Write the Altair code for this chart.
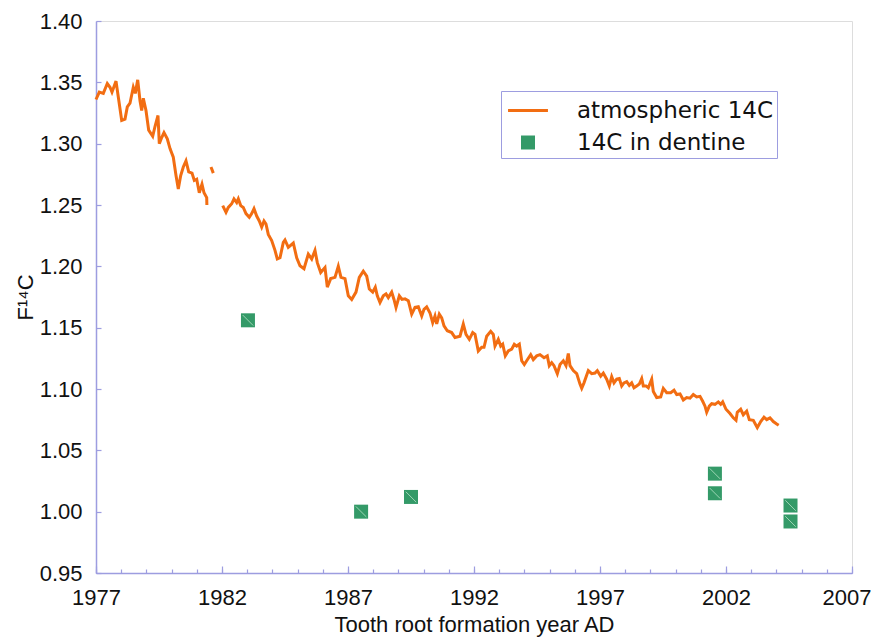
import altair as alt
import pandas as pd

# ---- atmospheric 14C ----
line_year = [
    1977.000, 1977.131, 1977.290, 1977.448, 1977.556, 1977.635, 1977.794, 1977.885, 1978.020, 1978.151,
    1978.242, 1978.349, 1978.480, 1978.560, 1978.655, 1978.746, 1978.813, 1978.877, 1978.984, 1979.091,
    1979.250, 1979.341, 1979.460, 1979.512, 1979.607, 1979.698, 1979.829, 1979.937, 1980.067, 1980.175,
    1980.266, 1980.361, 1980.464, 1980.571, 1980.679, 1980.810, 1980.901, 1980.996, 1981.099, 1981.206,
    1981.286, 1981.393, 1981.400,
    1981.563, 1981.655,
    1982.028, 1982.159, 1982.250, 1982.385, 1982.476, 1982.583, 1982.647, 1982.742, 1982.845, 1982.952,
    1983.083, 1983.179, 1983.270, 1983.377, 1983.480, 1983.575, 1983.667, 1983.746, 1983.837, 1983.972,
    1984.103, 1984.194, 1984.302, 1984.433, 1984.500, 1984.631, 1984.829, 1984.964, 1985.095, 1985.254,
    1985.425, 1985.560, 1985.690, 1985.782, 1985.917, 1986.087, 1986.179, 1986.313, 1986.484, 1986.615,
    1986.722, 1986.881, 1987.012, 1987.147, 1987.317, 1987.448, 1987.607, 1987.742, 1987.845, 1987.980,
    1988.083, 1988.163, 1988.270, 1988.401, 1988.508, 1988.599, 1988.734, 1988.825, 1988.905, 1989.036,
    1989.143, 1989.262, 1989.393, 1989.528, 1989.659, 1989.790, 1989.925, 1990.016, 1990.123, 1990.254,
    1990.361, 1990.452, 1990.520, 1990.623, 1990.718, 1990.810, 1990.940, 1991.115, 1991.246, 1991.444,
    1991.575, 1991.683, 1991.813, 1991.948, 1992.040, 1992.171, 1992.306, 1992.397, 1992.504, 1992.663,
    1992.766, 1992.833, 1992.964, 1993.060, 1993.139, 1993.242, 1993.361, 1993.496, 1993.599, 1993.694,
    1993.798, 1993.893, 1993.996, 1994.091, 1994.250, 1994.353, 1994.488, 1994.619, 1994.778, 1994.909,
    1994.988, 1995.083, 1995.175, 1995.306, 1995.413, 1995.544, 1995.651, 1995.742, 1995.810, 1995.940,
    1996.075, 1996.206, 1996.274, 1996.365, 1996.536, 1996.671, 1996.802, 1996.893, 1997.028, 1997.131,
    1997.266, 1997.369, 1997.464, 1997.556, 1997.663, 1997.766, 1997.861, 1997.952, 1998.060, 1998.163,
    1998.258, 1998.349, 1998.456, 1998.560, 1998.655, 1998.718, 1998.825, 1998.917, 1999.052, 1999.115,
    1999.250, 1999.409, 1999.512, 1999.647, 1999.806, 1999.937, 2000.044, 2000.175, 2000.306, 2000.440,
    2000.571, 2000.702, 2000.837, 2000.968, 2001.075, 2001.167, 2001.234, 2001.337, 2001.433, 2001.563,
    2001.694, 2001.790, 2001.869, 2002.000, 2002.159, 2002.290, 2002.397, 2002.448, 2002.583, 2002.687,
    2002.821, 2002.925, 2003.083, 2003.190, 2003.242, 2003.377, 2003.508, 2003.615, 2003.746, 2003.877,
    2004.012, 2004.091,
]
line_f14c = [
    1.336, 1.342, 1.341, 1.349, 1.346, 1.342, 1.351, 1.338, 1.319, 1.320,
    1.330, 1.333, 1.346, 1.341, 1.352, 1.335, 1.327, 1.337, 1.327, 1.311,
    1.306, 1.314, 1.323, 1.300, 1.305, 1.309, 1.304, 1.296, 1.289, 1.274,
    1.263, 1.274, 1.281, 1.286, 1.277, 1.276, 1.270, 1.271, 1.260, 1.267,
    1.260, 1.256, 1.250,
    1.281, 1.276,
    1.2495, 1.244, 1.248, 1.251, 1.255, 1.252, 1.255, 1.2495, 1.248, 1.243,
    1.240, 1.243, 1.247, 1.241, 1.237, 1.232, 1.237, 1.2345, 1.226, 1.221,
    1.213, 1.206, 1.207, 1.2195, 1.2215, 1.2155, 1.219, 1.207, 1.2005, 1.198,
    1.210, 1.206, 1.213, 1.203, 1.195, 1.199, 1.183, 1.190, 1.191, 1.200,
    1.191, 1.190, 1.176, 1.173, 1.179, 1.191, 1.196, 1.192, 1.1815, 1.179,
    1.183, 1.176, 1.1705, 1.176, 1.1775, 1.1745, 1.179, 1.173, 1.1665, 1.176,
    1.173, 1.1735, 1.172, 1.161, 1.1665, 1.167, 1.1595, 1.165, 1.167, 1.162,
    1.154, 1.1595, 1.153, 1.161, 1.158, 1.1515, 1.1475, 1.146, 1.142, 1.143,
    1.153, 1.1445, 1.1405, 1.146, 1.1445, 1.131, 1.134, 1.134, 1.143, 1.147,
    1.1445, 1.135, 1.1405, 1.135, 1.1365, 1.127, 1.131, 1.1325, 1.1365, 1.135,
    1.1365, 1.123, 1.120, 1.123, 1.128, 1.124, 1.127, 1.128, 1.1255, 1.127,
    1.119, 1.1215, 1.119, 1.1125, 1.120, 1.123, 1.119, 1.129, 1.119, 1.115,
    1.1125, 1.104, 1.1005, 1.105, 1.115, 1.1125, 1.113, 1.115, 1.1105, 1.113,
    1.108, 1.1025, 1.110, 1.105, 1.108, 1.1085, 1.1025, 1.105, 1.106, 1.103,
    1.105, 1.101, 1.1025, 1.104, 1.1085, 1.1025, 1.1025, 1.101, 1.108, 1.098,
    1.093, 1.0935, 1.1005, 1.097, 1.097, 1.099, 1.0955, 1.096, 1.091, 1.093,
    1.0925, 1.0955, 1.0935, 1.094, 1.090, 1.086, 1.081, 1.086, 1.088, 1.0875,
    1.0895, 1.0875, 1.0895, 1.0835, 1.080, 1.0765, 1.0745, 1.081, 1.0835, 1.079,
    1.082, 1.075, 1.0745, 1.0705, 1.0685, 1.0735, 1.077, 1.075, 1.0765, 1.0735,
    1.0715, 1.0705,
]
line_seg = [0] * 43 + [1] * 2 + [2] * (len(line_year) - 45)

# ---- 14C in dentine ----
dent_year = [1983.03, 1987.52, 1989.50, 2001.56, 2001.56, 2004.56, 2004.56]
dent_f14c = [1.156, 1.000, 1.012, 1.031, 1.015, 1.005, 0.992]

series_names = ["atmospheric 14C", "14C in dentine"]
x_ticks = list(range(1977, 2008, 5))
x_minor = list(range(1977, 2008))
y_ticks = [0.95, 1.00, 1.05, 1.10, 1.15, 1.20, 1.25, 1.30, 1.35, 1.40]

ORANGE = "#f26d12"
GREEN = "#349a68"
AXIS = "#9d9de0"
FONT = "Liberation Sans"
W, H = 756, 552

line_df = pd.DataFrame({"year": line_year, "f14c": line_f14c, "seg": line_seg})
dent_df = pd.DataFrame({"year": dent_year, "f14c": dent_f14c, "series": series_names[1]})

xscale = alt.Scale(domain=[1977, 2007], nice=False, zero=False)
yscale = alt.Scale(domain=[0.95, 1.40], nice=False, zero=False)

main_x = alt.Axis(values=x_ticks, format="d", ticks=False, tickSize=0, labelPadding=14,
                  labelFont=FONT, labelFontSize=22, labelColor="#111", labelFlush=False,
                  labelAlign=alt.ExprRef(expr="datum.value == 2007 ? 'right' : 'center'"),
                  labelOffset=alt.ExprRef(expr="datum.value == 2007 ? 19 : 0"),
                  domainColor=AXIS, domainWidth=1.5, grid=False,
                  title="Tooth root formation year AD", titleFont=FONT, titleFontSize=22,
                  titleFontWeight="normal", titleColor="#111", titlePadding=6)
main_y = alt.Axis(values=y_ticks, format=".2f", ticks=False, tickSize=0, labelPadding=14,
                  labelFont=FONT, labelFontSize=22, labelColor="#111",
                  domainColor=AXIS, domainWidth=1.5, grid=False,
                  title="F¹⁴C", titleFont=FONT, titleFontSize=22, titleFontWeight="normal",
                  titleColor="#111", titlePadding=2)
minor_x = alt.Axis(orient="top", offset=-H, values=x_minor, labels=False, domain=False,
                   tickSize=4, tickColor=AXIS, tickWidth=1.2, grid=False, title=None)
inner_y = alt.Axis(orient="right", offset=-W, values=y_ticks, labels=False, domain=False,
                   tickSize=5, tickColor=AXIS, tickWidth=1.2, grid=False, title=None)
major_x = alt.Axis(orient="top", offset=-H, values=x_ticks, labels=False, domain=False,
                   tickSize=7, tickColor=AXIS, tickWidth=1.2, grid=False, title=None)

# legend symbol for the line series: a thin horizontal bar; the dentine series uses a square
LINE_SYMBOL = "M-2.85,-0.2L2.85,-0.2L2.85,0.2L-2.85,0.2Z"
NBSP = "\u00a0"

legend = alt.Legend(
    title=NBSP, titleFontSize=5, titlePadding=0,
    orient="none", legendX=405, legendY=70, direction="vertical",
    symbolSize=196, symbolStrokeWidth=0, symbolOffset=12.5, labelOffset=37.5,
    labelFont="DejaVu Sans", labelFontSize=23, labelColor="#111", labelLimit=400,
    rowPadding=8, padding=3, strokeColor=AXIS, fillColor="white",
)

line = alt.Chart(line_df).mark_line(color=ORANGE, strokeWidth=3).encode(
    x=alt.X("year:Q", scale=xscale, axis=main_x),
    y=alt.Y("f14c:Q", scale=yscale, axis=main_y),
    detail="seg:N",
)

pts = alt.Chart(dent_df).mark_point(filled=True, size=196, opacity=1).encode(
    x=alt.X("year:Q", scale=xscale, axis=minor_x),
    y=alt.Y("f14c:Q", scale=yscale, axis=inner_y),
    color=alt.Color("series:N", scale=alt.Scale(domain=series_names, range=[ORANGE, GREEN]),
                    legend=legend),
    shape=alt.Shape("series:N", scale=alt.Scale(domain=series_names, range=[LINE_SYMBOL, "square"]),
                    legend=legend),
)

diag = alt.Chart(dent_df).mark_point(shape="M-0.75,-0.75L0.75,0.75", size=196, filled=False,
                                     stroke="#a9dcbc", strokeWidth=1, opacity=0.9).encode(
    x=alt.X("year:Q", scale=xscale, axis=major_x),
    y=alt.Y("f14c:Q", scale=yscale, axis=None),
)

chart = (
    alt.layer(line, pts, diag)
    .resolve_axis(x="independent", y="independent")
    .properties(width=W, height=H, autosize=alt.AutoSizeParams(type="none"),
                padding={"left": 88, "top": 13, "right": 19, "bottom": 66})
    .configure_view(stroke=None)
    .configure(background="white")
)

chart.save("out.html", embed_options={"renderer": "svg", "actions": False})
